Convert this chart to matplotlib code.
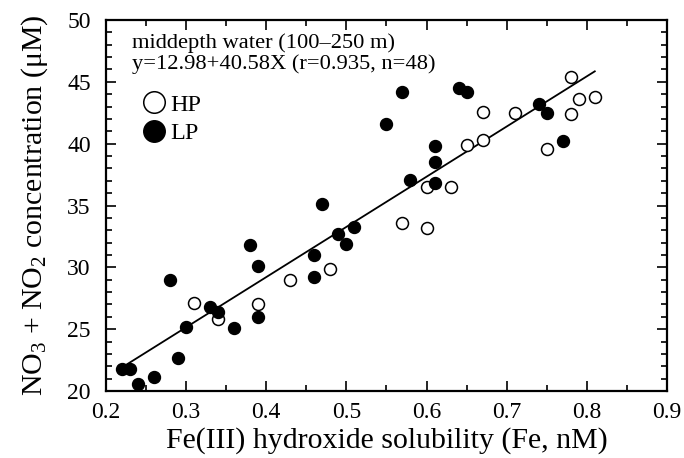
import matplotlib
matplotlib.use('Agg')
import matplotlib.pyplot as plt
import numpy as np
from matplotlib.ticker import MultipleLocator

plt.rcParams['font.family'] = ['Liberation Serif', 'DejaVu Serif']
plt.rcParams['mathtext.fontset'] = 'custom'
plt.rcParams['mathtext.rm'] = 'Liberation Serif'
plt.rcParams['mathtext.it'] = 'Liberation Serif:italic'

# HP (open circles)
hp_x = [0.31, 0.34, 0.39, 0.43, 0.48, 0.57, 0.60, 0.60, 0.63, 0.65,
        0.67, 0.67, 0.71, 0.75, 0.78, 0.78, 0.79, 0.81]
hp_y = [27.1, 25.8, 27.0, 29.0, 29.9, 33.6, 33.2, 36.5, 36.5, 39.9,
        40.3, 42.6, 42.5, 39.6, 45.4, 42.4, 43.6, 43.8]

# LP (filled circles)
lp_x = [0.22, 0.23, 0.24, 0.26, 0.28, 0.29, 0.30, 0.33, 0.34, 0.36,
        0.38, 0.39, 0.39, 0.46, 0.46, 0.47, 0.49, 0.50, 0.51, 0.55,
        0.57, 0.58, 0.61, 0.61, 0.61, 0.64, 0.65, 0.74, 0.75, 0.77]
lp_y = [21.8, 21.8, 20.6, 21.1, 29.0, 22.7, 25.2, 26.8, 26.4, 25.1,
        31.8, 30.1, 26.0, 31.0, 29.2, 35.1, 32.7, 31.9, 33.3, 41.6,
        44.2, 37.1, 39.8, 38.5, 36.8, 44.5, 44.2, 43.2, 42.5, 40.2]

# regression y = a + b*x
a, b = 12.98, 40.58
fit_x = [0.225, 0.81]

fig = plt.figure(figsize=(6.84, 4.58), dpi=100)
ax = fig.add_axes([0.155, 0.1463, 0.82, 0.81])

fx = np.array(fit_x)
ax.plot(fx, a + b*fx, color='black', lw=1.3, zorder=2)
ax.plot(hp_x, hp_y, 'o', ms=8.6, mfc='white', mec='black', mew=1.1, zorder=3)
ax.plot(lp_x, lp_y, 'o', ms=8.6, mfc='black', mec='black', zorder=3)

ax.set_xlim(0.2, 0.9)
ax.set_ylim(20, 50)
ax.xaxis.set_major_locator(MultipleLocator(0.1))
ax.xaxis.set_minor_locator(MultipleLocator(0.05))
ax.yaxis.set_major_locator(MultipleLocator(5))
ax.yaxis.set_minor_locator(MultipleLocator(1))
ax.tick_params(which='both', direction='in', top=True, right=True, labelsize=17, width=1.2)
ax.tick_params(which='major', length=7)
ax.tick_params(which='minor', length=4)
ax.tick_params(axis='x', which='major', pad=8)
ax.tick_params(axis='y', which='major', pad=11)
for s in ax.spines.values():
    s.set_linewidth(1.6)

ax.set_xlabel('Fe(III) hydroxide solubility (Fe, nM)', fontsize=21.5)
ax.set_ylabel(r'NO$_3$ + NO$_2$ concentration (μM)', fontsize=21.5)
ax.xaxis.set_label_coords(0.5, -0.097)
ax.yaxis.set_label_coords(-0.10, 0.5)

ax.text(0.046, 0.965, 'middepth water (100–250 m)\ny=12.98+40.58X (r=0.935, n=48)',
        transform=ax.transAxes, fontsize=16.2, va='top', ha='left', linespacing=1.1)

hp_h, = ax.plot([], [], 'o', ms=15.5, mfc='white', mec='black', mew=1.1, label='HP')
lp_h, = ax.plot([], [], 'o', ms=15.5, mfc='black', mec='black', label='LP')
ax.legend(handles=[hp_h, lp_h], loc='upper left', bbox_to_anchor=(0.045, 0.828),
          frameon=False, fontsize=17.5, handletextpad=0.1, labelspacing=0.28,
          borderaxespad=0, handlelength=1.1)

fig.savefig('out.png', dpi=100)
